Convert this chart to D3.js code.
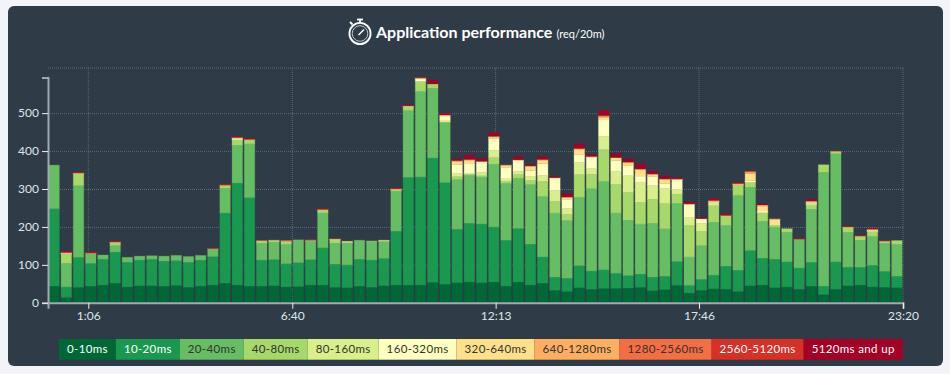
<!DOCTYPE html>
<html>
<head>
<meta charset="utf-8">
<title>Application performance</title>
<script src="https://cdn.jsdelivr.net/npm/d3@7"></script>
<style>
  html, body { margin: 0; padding: 0; background: #f2f4f9; overflow: hidden; }
  svg { display: block; font-family: Lato, "Open Sans", sans-serif; }
  .grid line { stroke: #5f6a75; stroke-width: 1; stroke-dasharray: 1 1; }
  .axis text { font-size: 12px; fill: #dfe6ec; font-family: Lato, sans-serif; }
  .axis path { stroke: #a3a9ae; stroke-width: 2; fill: none; }
  .axis .tick line { stroke: #f0f0f0; stroke-width: 1; }
</style>
</head>
<body>
<div id="chart"></div>
<script>
const buckets = ["0-10ms", "10-20ms", "20-40ms", "40-80ms", "80-160ms", "160-320ms", "320-640ms", "640-1280ms", "1280-2560ms", "2560-5120ms", "5120ms and up"];
const bucketColors = ["#006837", "#1a9850", "#66bd63", "#a6d96a", "#d9ef8b", "#ffffbf", "#fee08b", "#fdae61", "#f46d43", "#d73027", "#a50026"];
const bucketText = ["#fff", "#fff", "#333", "#333", "#333", "#333", "#333", "#333", "#333", "#fff", "#fff"];

const yTicks = [0, 100, 200, 300, 400, 500];
// minutes since midnight, one bar every 20 minutes
const xTicks = [66, 400, 733, 1066, 1400];
const xTickLabels = ["1:06", "6:40", "12:13", "17:46", "23:20"];

const s0 = [44,14,41,44,47,52,42,45,45,44,46,41,44,47,52,47,44,44,45,42,43,47,47,41,40,44,41,45,47,47,47,54,49,53,55,53,55,44,55,47,52,33,30,40,36,38,38,39,41,32,35,46,26,33,37,36,30,45,47,40,42,36,44,22,36,45,47,42,41,40];
const s1 = [204,28,79,60,68,82,65,68,70,66,65,66,69,75,185,269,233,69,69,61,63,67,98,61,60,71,72,72,142,284,285,328,268,141,155,155,145,121,141,108,69,35,35,58,48,49,40,33,35,36,35,63,20,29,36,61,56,93,71,75,66,56,63,22,72,49,47,57,42,30];
const s2 = [115,62,189,26,11,17,13,10,9,13,14,15,12,20,65,100,142,44,46,51,60,48,92,55,57,50,49,44,105,176,225,184,159,131,127,124,166,150,133,157,159,169,152,181,217,233,159,146,132,142,125,153,75,89,140,107,197,167,97,85,78,76,140,300,285,92,71,76,74,84];
const s3 = [0,24,32,1,0,8,0,0,0,0,0,0,0,1,8,13,12,7,4,8,0,3,9,9,4,0,1,3,5,10,27,11,0,8,2,3,17,6,9,11,40,31,16,59,38,84,76,73,57,63,68,24,84,38,43,25,27,13,21,5,8,0,11,20,7,14,11,13,5,10];
const s4 = [0,2,1,0,0,1,0,0,0,0,0,0,0,0,0,5,0,0,0,0,0,0,0,0,0,0,0,0,1,2,0,0,6,8,3,9,19,6,9,11,16,29,16,32,15,35,34,44,53,37,39,13,20,21,9,0,2,0,3,0,1,0,4,0,0,0,0,1,0,0];
const s5 = [0,1,0,0,0,0,0,0,0,0,0,0,0,0,0,1,0,0,0,0,0,0,0,0,0,0,0,0,0,0,6,0,10,23,24,28,31,30,29,14,31,32,24,20,30,43,28,26,16,23,12,26,35,11,2,0,0,4,3,0,0,0,2,0,0,0,0,2,0,0];
const s6 = [0,0,0,0,0,0,0,0,0,0,0,0,0,0,0,0,0,0,0,0,0,0,0,1,1,0,0,1,0,0,2,0,3,9,10,1,4,5,1,12,9,0,4,15,1,7,8,8,17,5,11,0,0,0,1,0,1,19,13,15,0,0,4,0,0,0,0,2,0,0];
const s7 = [0,1,0,0,0,0,0,0,0,0,0,0,0,0,0,0,0,0,1,1,0,0,0,1,0,0,0,0,0,0,1,0,0,2,2,0,2,1,0,1,2,1,2,2,1,3,0,2,2,2,2,2,1,1,1,1,1,4,3,1,0,0,0,0,0,0,0,1,1,0];
const s8 = [0,0,0,0,0,0,0,0,0,0,0,0,0,0,1,1,0,0,0,1,0,0,0,0,0,0,0,0,0,0,0,0,0,0,0,0,0,0,0,0,0,0,0,0,0,2,0,0,0,0,0,0,0,0,0,0,0,1,0,0,0,0,0,0,0,0,0,0,0,0];
const s9 = [0,3,2,2,0,2,0,0,0,0,0,0,0,1,1,1,1,1,0,0,0,1,2,0,0,0,0,0,2,1,0,0,0,0,0,0,0,0,0,0,0,0,0,0,0,0,0,0,0,0,0,0,0,0,3,2,2,1,0,0,0,1,0,0,0,1,1,1,0,0];
const s10 = [0,1,1,1,0,1,0,0,0,0,0,0,0,1,1,1,2,0,0,0,0,0,1,0,0,0,0,0,1,2,1,10,4,4,11,8,10,0,8,3,7,3,9,12,4,13,10,8,13,7,7,3,5,3,3,2,1,0,3,0,0,1,5,0,1,1,1,1,1,0];
const seriesValues = [s0, s1, s2, s3, s4, s5, s6, s7, s8, s9, s10];

const width = 950, height = 374;
const margin = {top: 68, right: 47, bottom: 71.2, left: 48};
const yMax = 594;
const yTopPx = 77.5;
const binMinutes = 20;

const bins = d3.range(s0.length);
const rows = bins.map(i => {
    const row = {bin: i};
    buckets.forEach((b, k) => { row[b] = seriesValues[k][i]; });
    return row;
});
const stacked = d3.stack().keys(buckets)(rows);

const color = d3.scaleOrdinal().domain(buckets).range(bucketColors);
const x = d3.scaleLinear().domain([0, bins.length * binMinutes]).range([margin.left, width - margin.right]);
const xBand = d3.scaleBand().domain(bins).range([margin.left, width - margin.right]).paddingInner(0.14).paddingOuter(0.07);
const y = d3.scaleLinear().domain([0, yMax]).range([height - margin.bottom, yTopPx]);

const svg = d3.select("#chart").append("svg")
    .attr("width", width)
    .attr("height", height);

svg.append("rect")
    .attr("x", 8).attr("y", 6)
    .attr("width", 935).attr("height", 360)
    .attr("rx", 6)
    .attr("fill", "#2f3b47");

// grid
const grid = svg.append("g").attr("class", "grid");
grid.selectAll("line.h")
    .data(yTicks.slice(1))
    .join("line")
    .attr("x1", margin.left).attr("x2", width - margin.right)
    .attr("y1", d => y(d) + 0.5).attr("y2", d => y(d) + 0.5);
grid.append("line")
    .attr("x1", margin.left).attr("x2", width - margin.right)
    .attr("y1", margin.top).attr("y2", margin.top);
grid.selectAll("line.v")
    .data(xTicks)
    .join("line")
    .attr("x1", d => x(d)).attr("x2", d => x(d))
    .attr("y1", margin.top).attr("y2", y(0));

// bars
svg.append("g").selectAll("g")
    .data(stacked)
    .join("g")
    .attr("fill", d => color(d.key))
    .attr("stroke", d => color(d.key))
    .attr("stroke-opacity", 0.3)
    .selectAll("rect")
    .data(d => d.filter(p => p[1] > p[0]))
    .join("rect")
    .attr("x", d => xBand(d.data.bin))
    .attr("y", d => y(d[1]))
    .attr("width", xBand.bandwidth())
    .attr("height", d => y(d[0]) - y(d[1]));

// axes
svg.append("g")
    .attr("class", "axis")
    .attr("transform", `translate(0,${height - margin.bottom})`)
    .call(d3.axisBottom(x).tickValues(xTicks).tickFormat((d, i) => xTickLabels[i]).tickSize(6).tickPadding(3));

svg.append("g")
    .attr("class", "axis")
    .attr("transform", `translate(${margin.left},0)`)
    .call(d3.axisLeft(y).tickValues(yTicks).tickSize(6).tickPadding(3));

// title with stopwatch icon
const icon = svg.append("g")
    .attr("transform", "translate(360,33.5)")
    .attr("fill", "none")
    .attr("stroke", "#fff");
icon.append("circle").attr("r", 10.6).attr("stroke-width", 1.8);
icon.append("circle").attr("r", 7.8).attr("stroke-width", 0.7);
icon.append("line").attr("x1", -1.5).attr("y1", 1.5).attr("x2", 4).attr("y2", -4).attr("stroke-width", 1.4);
icon.append("line").attr("x1", -3).attr("y1", -14).attr("x2", 3).attr("y2", -14).attr("stroke-width", 1.8);
icon.append("line").attr("x1", 0).attr("y1", -14).attr("x2", 0).attr("y2", -10.5).attr("stroke-width", 1.8);
icon.append("line").attr("x1", -10).attr("y1", -11.5).attr("x2", -7.5).attr("y2", -9).attr("stroke-width", 1.8);

const title = svg.append("text")
    .attr("x", 376).attr("y", 38)
    .attr("fill", "#fff");
title.append("tspan")
    .style("font-size", "16px")
    .style("font-weight", "700")
    .text("Application performance");
title.append("tspan")
    .attr("dx", 4)
    .style("font-size", "11px")
    .style("font-weight", "400")
    .text("(req/20m)");

// legend, box widths follow the text
const legendY = 339, legendH = 20.7, legendPad = 8;
let legendX = 59;
const legend = svg.append("g");
buckets.forEach((b, k) => {
    const g = legend.append("g");
    const r = g.append("rect")
        .attr("x", legendX).attr("y", legendY)
        .attr("height", legendH)
        .attr("fill", bucketColors[k]);
    const t = g.append("text")
        .attr("x", legendX + legendPad)
        .attr("y", legendY + legendH / 2)
        .attr("dy", "0.35em")
        .attr("fill", bucketText[k])
        .style("font-size", "11.5px")
        .style("letter-spacing", "0.36px")
        .text(b);
    const w = t.node().getComputedTextLength() + legendPad * 2;
    r.attr("width", w);
    legendX += w;
});
</script>
</body>
</html>
